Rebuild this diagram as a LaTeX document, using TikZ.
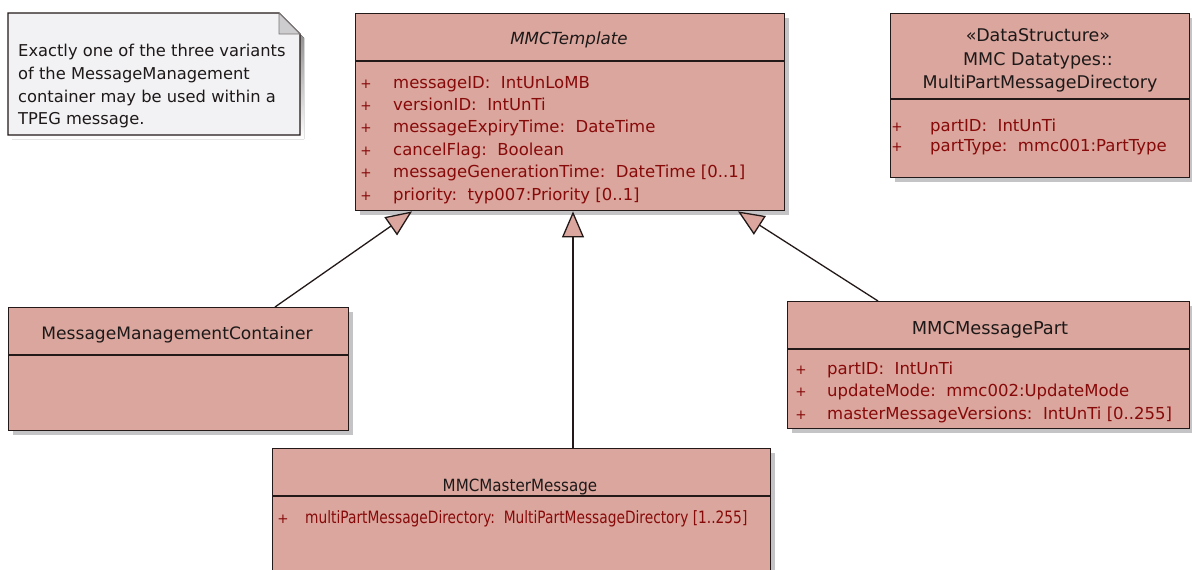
\documentclass[tikz,border=0pt]{standalone}
\usepackage{fontspec}
\setmainfont{DejaVu Sans}
\usetikzlibrary{arrows.meta,shadows}
\definecolor{boxfill}{RGB}{218,166,157}
\definecolor{boxline}{RGB}{35,25,25}
\definecolor{attr}{RGB}{135,10,10}
\definecolor{ttl}{RGB}{30,25,25}
\definecolor{notefill}{RGB}{242,242,244}
\definecolor{foldfill}{RGB}{205,205,208}
\definecolor{shade}{RGB}{196,196,198}
\begin{document}
\begin{tikzpicture}[x=1pt,y=-1pt,
  umlbox/.style={draw=boxline, fill=boxfill, line width=1.4pt, inner sep=0pt, anchor=north west,
    drop shadow={shadow xshift=4pt, shadow yshift=-4pt, fill=shade, opacity=1}},
  ttlt/.style={font=\fontsize{17}{20}\selectfont, text=ttl, inner sep=0pt, anchor=base},
  attrt/.style={font=\fontsize{16.5}{19}\selectfont, text=attr, inner sep=0pt, anchor=base west},
  plus/.style={font=\fontsize{13.5}{16}\selectfont, text=attr, inner sep=0pt, anchor=base},
  notet/.style={font=\fontsize{16.3}{19}\selectfont, text=ttl, inner sep=0pt, anchor=base west},
  divline/.style={draw=boxline, line width=1.4pt},
  gen/.style={draw=boxline, line width=1.3pt, -{Triangle[length=26pt,width=22pt,fill=boxfill]}}]
\useasboundingbox (0,0) rectangle (1192,570);
\fill[white] (0,0) rectangle (1192,570);

% note
\fill[shade] (12,17) -- (283,17) -- (304,38) -- (304,139) -- (12,139) -- cycle;
\filldraw[fill=notefill, draw=boxline, line width=1.4pt] (8,13) -- (279,13) -- (300,34) -- (300,135) -- (8,135) -- cycle;
\filldraw[fill=foldfill, draw=boxline!60, line width=0.8pt] (279,13) -- (300,34) -- (279,34) -- cycle;
\node[notet] (n1) at (18,56) {Exactly one of the three variants};
\node[notet] (n2) at (18,79) {of the MessageManagement};
\node[notet] (n3) at (18,102) {container may be used within a};
\node[notet] (n4) at (18,124) {TPEG message.};

% boxes
\node[umlbox, minimum width=429pt, minimum height=197pt] (tmpl) at (355,13) {};
\node[umlbox, minimum width=299pt, minimum height=164pt] (ds) at (890,13) {};
\node[umlbox, minimum width=340pt, minimum height=123pt] (mmc) at (8,307) {};
\node[umlbox, minimum width=402pt, minimum height=127pt] (part) at (787,301) {};
\node[umlbox, minimum width=498pt, minimum height=140pt] (master) at (272,448) {};

% dividers
\draw[divline] (355,61) -- (784,61);
\draw[divline] (890,99) -- (1189,99);
\draw[divline] (8,355) -- (348,355);
\draw[divline] (787,349) -- (1189,349);
\draw[divline] (272,496) -- (770,496);

% MMCTemplate
\node[ttlt, font=\fontsize{16.7}{20}\selectfont\itshape] (tmplT) at (569,45) {MMCTemplate};
\foreach \i/\y/\t in {1/88/{messageID:\ \ IntUnLoMB},
                      2/110.4/{versionID:\ \ IntUnTi},
                      3/132.8/{messageExpiryTime:\ \ DateTime},
                      4/155.2/{cancelFlag:\ \ Boolean},
                      5/177.6/{messageGenerationTime:\ \ DateTime [0..1]},
                      6/200/{priority:\ \ typ007:Priority [0..1]}}{
  \node[plus] (tp\i) at (366,\y) {+};
  \node[attrt] (ta\i) at (393,\y) {\t};
}

% DataStructure
\node[ttlt, font=\fontsize{17.5}{20}\selectfont] (dsT1) at (1038,41) {«DataStructure»};
\node[ttlt, font=\fontsize{17.5}{20}\selectfont] (dsT2) at (1038,65) {MMC Datatypes::};
\node[ttlt, font=\fontsize{17.5}{20}\selectfont] (dsT3) at (1040,88) {MultiPartMessageDirectory};
\node[plus] (dp1) at (897,131) {+};
\node[attrt] (da1) at (930,131) {partID:\ \ IntUnTi};
\node[plus] (dp2) at (897,151) {+};
\node[attrt] (da2) at (930,151) {partType:\ \ mmc001:PartType};

% MessageManagementContainer
\node[ttlt, font=\fontsize{17.1}{20}\selectfont] (mmcT) at (177,339) {MessageManagementContainer};

% MMCMessagePart
\node[ttlt, font=\fontsize{17.8}{20}\selectfont] (partT) at (990,334) {MMCMessagePart};
\node[plus] (pp1) at (801,374) {+};
\node[attrt] (pa1) at (827,374) {partID:\ \ IntUnTi};
\node[plus] (pp2) at (801,396.5) {+};
\node[attrt] (pa2) at (827,396.5) {updateMode:\ \ mmc002:UpdateMode};
\node[plus] (pp3) at (801,419) {+};
\node[attrt] (pa3) at (827,419) {masterMessageVersions:\ \ IntUnTi [0..255]};

% MMCMasterMessage
\node[ttlt, font=\fontsize{16.8}{20}\selectfont] (masterT) at (520,491) {\scalebox{0.9}[1]{MMCMasterMessage}};
\node[plus] (mp1) at (283,523) {+};
\node[attrt, font=\fontsize{17}{19}\selectfont] (ma1) at (305,523) {\scalebox{0.81}[1]{multiPartMessageDirectory:\ \ MultiPartMessageDirectory [1..255]}};

% generalizations
\draw[gen] ([xshift=267pt]mmc.north west) -- ([xshift=57pt]tmpl.south west);
\draw[gen] ([xshift=301pt]master.north west) -- ([xshift=218pt]tmpl.south west);
\draw[gen] ([xshift=91pt]part.north west) -- ([xshift=383pt]tmpl.south west);
\end{tikzpicture}
\end{document}
